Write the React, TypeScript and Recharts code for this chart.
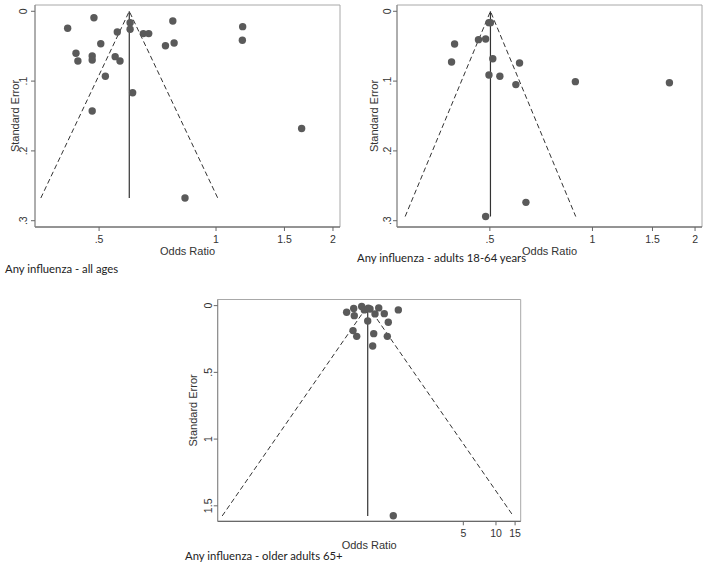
import React from 'react';
import { ScatterChart, Scatter, XAxis, YAxis, ReferenceArea } from 'recharts';

// ---- Panel 1: all ages ----
const allAgesOR = [0.415, 0.485, 0.601, 0.601, 0.557, 0.65, 0.671, 0.774, 1.171, 1.169, 0.505, 0.741, 0.78, 0.436, 0.441, 0.48, 0.48, 0.55, 0.566, 0.519, 0.61, 0.48, 1.661, 0.832];
const allAgesSE = [0.0244, 0.0092, 0.0163, 0.0258, 0.0297, 0.032, 0.032, 0.0139, 0.022, 0.0416, 0.0464, 0.0493, 0.0454, 0.0602, 0.0712, 0.064, 0.0698, 0.065, 0.0712, 0.0931, 0.1166, 0.1428, 0.168, 0.2675];
const allAgesFunnel = [0.598, 0.2675]; // pooled OR, max SE
const allAgesXTicks = [0.5, 1, 1.5, 2];
const allAgesYTicks = [0, 0.1, 0.2, 0.3];

// ---- Panel 2: adults 18-64 ----
const adultsOR = [0.497, 0.502, 0.463, 0.486, 0.394, 0.386, 0.51, 0.611, 0.497, 0.535, 0.596, 0.891, 1.682, 0.638, 0.486];
const adultsSE = [0.0163, 0.0163, 0.0406, 0.0397, 0.0468, 0.0726, 0.0679, 0.0741, 0.0913, 0.0931, 0.105, 0.1008, 0.1023, 0.2737, 0.294];
const adultsFunnel = [0.502, 0.294];
const adultsXTicks = [0.5, 1, 1.5, 2];
const adultsYTicks = [0, 0.1, 0.2, 0.3];

// ---- Panel 3: older adults 65+ ----
const olderOR = [0.42, 0.488, 0.578, 0.494, 0.611, 0.665, 0.69, 0.83, 0.767, 0.934, 1.258, 0.657, 1.017, 0.481, 0.52, 0.746, 0.996, 0.73, 1.131];
const olderSE = [0.05, 0.022, 0.007, 0.075, 0.032, 0.02, 0.025, 0.017, 0.062, 0.06, 0.032, 0.115, 0.125, 0.187, 0.23, 0.21, 0.23, 0.302, 1.574];
const olderFunnel = [0.657, 1.576];
const olderXTicks = [5, 10, 15];
const olderYTicks = [0, 0.5, 1, 1.5];

const captions = ['Any influenza - all ages', 'Any influenza - adults 18-64 years', 'Any influenza - older adults 65+'];

const FONT = '"Liberation Sans", Arial, sans-serif';
const fmt = (v: number) => {
  const s = String(v);
  return s.startsWith('0.') ? s.slice(1) : s;
};

type PanelProps = {
  left: number;
  top: number;
  width: number;
  height: number;
  margin: { top: number; right: number; bottom: number; left: number };
  yAxisWidth: number;
  xDomain: [number, number];
  yDomain: [number, number];
  xTicks: number[];
  yTicks: number[];
  ors: number[];
  ses: number[];
  funnel: number[];
  yLabelOffset: number;
  yTickOffset: number;
};

const X_AXIS_H = 40;

function FunnelPanel(p: PanelProps) {
  const data = p.ors.map((o, i) => ({ x: o, y: p.ses[i] }));
  const [c, s] = p.funnel;
  const lc = Math.log(c);
  const dashed = [
    { x: Math.exp(lc - 1.96 * s), y: s },
    { x: c, y: 0 },
    { x: Math.exp(lc + 1.96 * s), y: s },
  ];
  const vertical = [
    { x: c, y: 0 },
    { x: c, y: s },
  ];
  const plotLeft = p.margin.left + p.yAxisWidth;
  const plotRight = p.width - p.margin.right;
  const plotTop = p.margin.top;
  const plotBottom = p.height - p.margin.bottom - X_AXIS_H;

  const YTick = (tp: any) => {
    const x = plotLeft - p.yTickOffset;
    const y = tp.y;
    return (
      <text
        x={x}
        y={y}
        transform={`rotate(-90 ${x} ${y})`}
        textAnchor="middle"
        dominantBaseline="central"
        fontSize={10.5}
        fontFamily={FONT}
        fill="#333"
      >
        {fmt(tp.payload.value)}
      </text>
    );
  };
  const XTick = (tp: any) => (
    <text x={tp.x} y={plotBottom + 11.5} textAnchor="middle" dominantBaseline="central" fontSize={10.5} fontFamily={FONT} fill="#333">
      {fmt(tp.payload.value)}
    </text>
  );

  return (
    <div style={{ position: 'absolute', left: p.left, top: p.top }}>
      <ScatterChart width={p.width} height={p.height} margin={p.margin}>
        <XAxis
          type="number"
          dataKey="x"
          scale="log"
          domain={p.xDomain}
          allowDataOverflow
          ticks={p.xTicks}
          interval={0}
          tick={XTick}
          tickSize={4}
          height={X_AXIS_H}
          stroke="#555"
          tickLine={{ stroke: '#666' }}
          label={{
            content: () => (
              <text x={(plotLeft + plotRight) / 2} y={plotBottom + 23.5} textAnchor="middle" dominantBaseline="central" fontSize={11} fontFamily={FONT} fill="#333">
                Odds Ratio
              </text>
            ),
          }}
        />
        <YAxis
          type="number"
          dataKey="y"
          reversed
          domain={p.yDomain}
          allowDataOverflow
          ticks={p.yTicks}
          interval={0}
          tick={YTick}
          tickSize={4}
          width={p.yAxisWidth}
          stroke="#888"
          tickLine={{ stroke: '#666' }}
          label={{
            content: () => {
              const cx = plotLeft - p.yLabelOffset;
              const cy = (plotTop + plotBottom) / 2;
              return (
                <text x={cx} y={cy} transform={`rotate(-90 ${cx} ${cy})`} textAnchor="middle" dominantBaseline="central" fontSize={11} fontFamily={FONT} fill="#333">
                  Standard Error
                </text>
              );
            },
          }}
        />
        <ReferenceArea x1={p.xDomain[0]} x2={p.xDomain[1]} y1={p.yDomain[0]} y2={p.yDomain[1]} fill="none" stroke="#a8a8a8" strokeWidth={1} ifOverflow="visible" />
        <Scatter
          data={dashed}
          isAnimationActive={false}
          line={{ stroke: '#333', strokeDasharray: '5 3', strokeWidth: 1 }}
          shape={() => <g />}
        />
        <Scatter
          data={vertical}
          isAnimationActive={false}
          line={{ stroke: '#333', strokeWidth: 1.2 }}
          shape={() => <g />}
        />
        <Scatter
          data={data}
          isAnimationActive={false}
          shape={(sp: any) => <circle cx={sp.cx} cy={sp.cy} r={3.7} fill="#5a5a5a" />}
        />
      </ScatterChart>
    </div>
  );
}

const captionStyle = (x: number, yc: number): React.CSSProperties => ({
  position: 'absolute',
  left: x,
  top: yc - 8,
  height: 16,
  lineHeight: '16px',
  fontFamily: 'Lato, "Open Sans", sans-serif',
  fontSize: 11.3,
  color: '#222',
  whiteSpace: 'nowrap',
});

export default function App() {
  return (
    <div style={{ position: 'absolute', left: 0, top: 0, width: 708, height: 566, background: '#fff', overflow: 'hidden' }}>
      <FunnelPanel
        left={0}
        top={0}
        width={354}
        height={290}
        margin={{ top: 5, right: 14, bottom: 23, left: 0 }}
        yAxisWidth={35}
        xDomain={[0.342, 2.085]}
        yDomain={[-0.009, 0.309]}
        xTicks={allAgesXTicks}
        yTicks={allAgesYTicks}
        ors={allAgesOR}
        ses={allAgesSE}
        funnel={allAgesFunnel}
        yLabelOffset={20}
        yTickOffset={11.5}
      />
      <FunnelPanel
        left={354}
        top={0}
        width={354}
        height={290}
        margin={{ top: 5, right: 6, bottom: 23, left: 0 }}
        yAxisWidth={43}
        xDomain={[0.267, 2.096]}
        yDomain={[-0.009, 0.309]}
        xTicks={adultsXTicks}
        yTicks={adultsYTicks}
        ors={adultsOR}
        ses={adultsSE}
        funnel={adultsFunnel}
        yLabelOffset={23}
        yTickOffset={10}
      />
      <FunnelPanel
        left={170}
        top={290}
        width={370}
        height={276}
        margin={{ top: 9.5, right: 19.3, bottom: 4.7, left: 0 }}
        yAxisWidth={47.7}
        xDomain={[0.0272, 16.9]}
        yDomain={[-0.046, 1.616]}
        xTicks={olderXTicks}
        yTicks={olderYTicks}
        ors={olderOR}
        ses={olderSE}
        funnel={olderFunnel}
        yLabelOffset={24.4}
        yTickOffset={9.5}
      />
      <div style={captionStyle(5, 269.3)}>{captions[0]}</div>
      <div style={captionStyle(357, 258.3)}>{captions[1]}</div>
      <div style={captionStyle(185, 556)}>{captions[2]}</div>
    </div>
  );
}
